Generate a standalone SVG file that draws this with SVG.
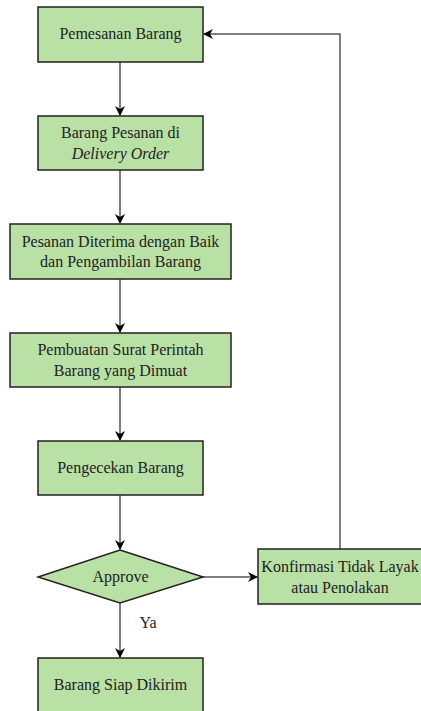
<svg xmlns="http://www.w3.org/2000/svg" width="421" height="711" viewBox="0 0 421 711">
<defs>
<marker id="ah" viewBox="0 0 10 10" refX="9" refY="5" markerWidth="10" markerHeight="10" markerUnits="userSpaceOnUse" orient="auto">
<path d="M0,0 L10,5 L0,10 L3,5 Z" fill="#000"/>
</marker>
<style>
.n{fill:#B9E0A5;stroke:#222;stroke-width:1.5}
.t{font-size:16px;fill:#222;text-anchor:middle}
.c{fill:none;stroke:#555;stroke-width:1.5}
</style>
</defs>
<rect width="421" height="711" fill="#fff"/>
<g font-family="Liberation Serif, serif">
<g id="connectors">
<path class="c" d="M120,62 L120,115" marker-end="url(#ah)"/>
<path class="c" d="M120,170 L120,223" marker-end="url(#ah)"/>
<path class="c" d="M120,279 L120,332" marker-end="url(#ah)"/>
<path class="c" d="M120,387 L120,440" marker-end="url(#ah)"/>
<path class="c" d="M120,495 L120,549" marker-end="url(#ah)"/>
<path class="c" d="M203,577 L257,577" marker-end="url(#ah)"/>
<path class="c" d="M120,603 L120,657" stroke="#222" marker-end="url(#ah)"/>
<path class="c" d="M340,549 L340,34 L204,34" stroke="#222" marker-end="url(#ah)"/>
<text class="t" x="148" y="628">Ya</text>
</g>
<g id="n1"><rect class="n" x="38" y="7" width="165" height="55"/><text class="t" x="120.5" y="39">Pemesanan Barang</text></g>
<g id="n2"><rect class="n" x="38" y="116" width="165" height="54"/><text class="t" x="120.5" y="138">Barang Pesanan di</text><text class="t" x="120.5" y="159" font-style="italic">Delivery Order</text></g>
<g id="n3"><rect class="n" x="10" y="224" width="221" height="55"/><text class="t" x="120.5" y="247">Pesanan Diterima dengan Baik</text><text class="t" x="120.5" y="267">dan Pengambilan Barang</text></g>
<g id="n4"><rect class="n" x="10" y="333" width="221" height="54"/><text class="t" x="120.5" y="355">Pembuatan Surat Perintah</text><text class="t" x="120.5" y="376">Barang yang Dimuat</text></g>
<g id="n5"><rect class="n" x="38" y="441" width="165" height="54"/><text class="t" x="120.5" y="473">Pengecekan Barang</text></g>
<g id="n6"><path class="n" d="M120,550 L203,577 L120,603 L38,577 Z"/><text class="t" x="120.5" y="582">Approve</text></g>
<g id="n7"><rect class="n" x="258" y="549" width="164" height="55"/><text class="t" x="340" y="572">Konfirmasi Tidak Layak</text><text class="t" x="340" y="593">atau Penolakan</text></g>
<g id="n8"><rect class="n" x="38" y="658" width="165" height="60"/><text class="t" x="120.5" y="690">Barang Siap Dikirim</text></g>
</g>
</svg>
